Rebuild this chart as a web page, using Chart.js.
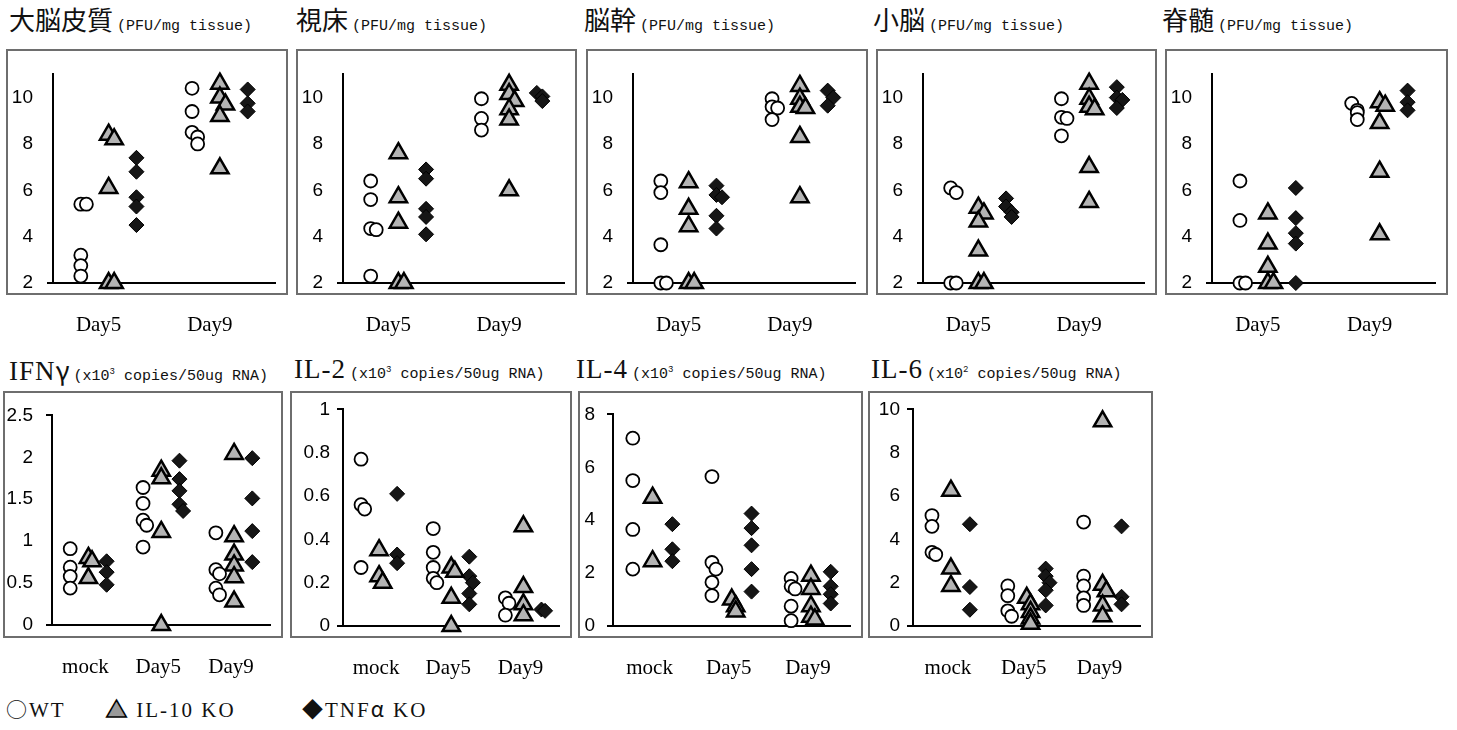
<!DOCTYPE html>
<html>
<head>
<meta charset="utf-8">
<script src="https://cdn.jsdelivr.net/npm/chart.js@4.4.1/dist/chart.umd.min.js"></script>
<style>
  body { margin: 0; width: 1457px; height: 730px; background: #fff; position: relative; overflow: hidden; }
  .frame { position: absolute; border: 2px solid #6e6e6e; box-sizing: border-box; }
  canvas { position: absolute; }
  .ttl { position: absolute; white-space: nowrap; color: #111; line-height: 30px; }
  .cjk { font-family: "Noto Sans CJK JP"; font-size: 26px; }
  .lat { font-family: "Liberation Serif"; font-size: 27px; letter-spacing: 1px; }
  .sub { font-family: "Liberation Mono"; font-size: 15px; }
  .sub sup { font-size: 9px; }
  .leg { position: absolute; top: 693px; white-space: nowrap; font-family: "Liberation Serif"; font-size: 21px; letter-spacing: 2px; color: #111; }
  .sym { font-family: "Noto Sans CJK JP"; }
  .tri { color: #9a9a9a; -webkit-text-stroke: 1.5px #000; }
</style>
</head>
<body>
<div id="root"></div>
<script>
// categories and y tick labels
const topCats = ["Day5", "Day9"];
const botCats = ["mock", "Day5", "Day9"];
const topTicks = [2, 4, 6, 8, 10];
const ifnTicks = [0, 0.5, 1, 1.5, 2, 2.5];
const il2Ticks = [0, 0.2, 0.4, 0.6, 0.8, 1];
const il4Ticks = [0, 2, 4, 6, 8];
const il6Ticks = [0, 2, 4, 6, 8, 10];

// virus titre (PFU/mg tissue), one inner array per category
const cortexWT = [[5.4, 5.4, 3.2, 2.75, 2.3], [10.4, 9.4, 8.5, 8.3, 8.0]];
const cortexIL10 = [[8.4, 8.2, 6.1, 2.0, 2.0], [10.6, 10.0, 9.7, 9.2, 6.95]];
const cortexTNF = [[7.4, 6.8, 5.7, 5.3, 4.5], [10.35, 9.75, 9.4]];

const thalamusWT = [[6.4, 5.6, 4.35, 4.3, 2.3], [9.95, 9.1, 8.6]];
const thalamusIL10 = [[7.6, 5.7, 4.6, 2.0, 2.0], [10.55, 10.15, 9.85, 9.5, 9.05, 6.0]];
const thalamusTNF = [[6.9, 6.5, 5.2, 4.85, 4.1], [10.2, 10.05, 9.85]];

const brainstemWT = [[6.4, 5.9, 3.65, 2.0, 2.0], [9.95, 9.6, 9.55, 9.05]];
const brainstemIL10 = [[6.35, 5.2, 4.45, 2.0, 2.0], [10.5, 9.95, 9.6, 9.55, 8.3, 5.7]];
const brainstemTNF = [[6.2, 5.8, 5.7, 4.9, 4.35], [10.3, 10.0, 9.65]];

const cerebellumWT = [[6.1, 5.9, 2.0, 2.0], [9.95, 9.15, 9.1, 8.35]];
const cerebellumIL10 = [[5.25, 5.0, 4.65, 3.4, 2.0, 2.0], [10.6, 9.95, 9.6, 9.5, 7.0, 5.5]];
const cerebellumTNF = [[5.65, 5.3, 5.05, 4.85], [10.45, 10.0, 9.9, 9.55]];

const spinalWT = [[6.4, 4.7, 2.0, 2.0], [9.75, 9.45, 9.35, 9.05]];
const spinalIL10 = [[5.0, 3.7, 2.7, 2.0, 2.0], [9.8, 9.65, 8.9, 6.8, 4.1]];
const spinalTNF = [[6.1, 4.8, 4.15, 3.7, 2.0], [10.3, 9.8, 9.45]];

// cytokine mRNA
const ifnWT = [[0.91, 0.69, 0.58, 0.44], [1.64, 1.45, 1.25, 1.19, 0.93], [1.1, 0.66, 0.61, 0.44, 0.36]];
const ifnIL10 = [[0.8, 0.76, 0.56], [1.84, 1.75, 1.11, 0], [2.04, 1.06, 0.84, 0.71, 0.57, 0.28]];
const ifnTNF = [[0.76, 0.63, 0.48], [1.96, 1.74, 1.6, 1.44, 1.36], [1.99, 1.51, 1.12, 0.75]];

const il2WT = [[0.77, 0.56, 0.54, 0.27], [0.45, 0.34, 0.27, 0.22, 0.2], [0.13, 0.105, 0.05]];
const il2IL10 = [[0.35, 0.23, 0.2], [0.27, 0.25, 0.13, 0], [0.46, 0.18, 0.1, 0.05]];
const il2TNF = [[0.61, 0.33, 0.29], [0.32, 0.23, 0.2, 0.15, 0.1], [0.076, 0.07]];

const il4WT = [[7.1, 5.5, 3.65, 2.15], [5.65, 2.4, 2.15, 1.65, 1.15], [1.8, 1.5, 1.4, 0.75, 0.2]];
const il4IL10 = [[4.85, 2.45], [1.0, 0.75, 0.55], [1.9, 1.4, 0.75, 0.35, 0.25]];
const il4TNF = [[3.85, 2.9, 2.45], [4.25, 3.7, 3.05, 2.15, 1.3], [2.05, 1.5, 1.2, 0.85]];

const il6WT = [[5.1, 4.6, 3.4, 3.3], [1.85, 1.4, 0.7, 0.45], [4.8, 2.3, 1.85, 1.3, 0.95]];
const il6IL10 = [[6.25, 2.65, 1.85], [1.3, 1.0, 0.65, 0.35, 0.1], [9.45, 1.9, 1.6, 0.95, 0.45]];
const il6TNF = [[4.7, 1.8, 0.75], [2.65, 2.3, 2.0, 1.65, 0.95], [4.6, 1.35, 1.0]];

const unitTop = '(PFU/mg tissue)';
const unit3 = '(x10<sup>3</sup> copies/50ug RNA)';
const unit2 = '(x10<sup>2</sup> copies/50ug RNA)';

// layout: frame box [left, top, width, height], axis x inside frame, plot top/bottom inside frame
const panels = [
  { head: '<span class="cjk">大脳皮質</span>', unit: unitTop, tx: 9, ty: 4, cats: topCats, ticks: topTicks, max: 11,
    wt: cortexWT, il10: cortexIL10, tnf: cortexTNF, box: [6, 49, 282, 246], axisX: 47, plotTop: 13, plotBottom: 234, yPad: 14, xOff: -10 },
  { head: '<span class="cjk">視床</span>', unit: unitTop, tx: 296, ty: 4, cats: topCats, ticks: topTicks, max: 11,
    wt: thalamusWT, il10: thalamusIL10, tnf: thalamusTNF, box: [296, 49, 281, 246], axisX: 47, plotTop: 13, plotBottom: 234, yPad: 14, xOff: -10 },
  { head: '<span class="cjk">脳幹</span>', unit: unitTop, tx: 584, ty: 4, cats: topCats, ticks: topTicks, max: 11,
    wt: brainstemWT, il10: brainstemIL10, tnf: brainstemTNF, box: [586, 49, 282, 246], axisX: 47, plotTop: 13, plotBottom: 234, yPad: 14, xOff: -10 },
  { head: '<span class="cjk">小脳</span>', unit: unitTop, tx: 873, ty: 4, cats: topCats, ticks: topTicks, max: 11,
    wt: cerebellumWT, il10: cerebellumIL10, tnf: cerebellumTNF, box: [876, 49, 281, 246], axisX: 47, plotTop: 13, plotBottom: 234, yPad: 14, xOff: -10 },
  { head: '<span class="cjk">脊髄</span>', unit: unitTop, tx: 1162, ty: 4, cats: topCats, ticks: topTicks, max: 11,
    wt: spinalWT, il10: spinalIL10, tnf: spinalTNF, box: [1165, 49, 283, 246], axisX: 47, plotTop: 13, plotBottom: 234, yPad: 14, xOff: -10 },
  { head: '<span class="lat">IFN</span><span class="cjk">γ</span>', unit: unit3, tx: 9, ty: 354, cats: botCats, ticks: ifnTicks, max: 2.5,
    wt: ifnWT, il10: ifnIL10, tnf: ifnTNF, box: [3, 391, 280, 247], axisX: 49, plotTop: 12, plotBottom: 234, yPad: 13, xOff: -3 },
  { head: '<span class="lat">IL-2</span>', unit: unit3, tx: 294, ty: 354, cats: botCats, ticks: il2Ticks, max: 1,
    wt: il2WT, il10: il2IL10, tnf: il2TNF, box: [290, 391, 282, 247], axisX: 53, plotTop: 14, plotBottom: 235, yPad: 7, xOff: -3 },
  { head: '<span class="lat">IL-4</span>', unit: unit3, tx: 576, ty: 354, cats: botCats, ticks: il4Ticks, max: 8,
    wt: il4WT, il10: il4IL10, tnf: il4TNF, box: [578, 391, 285, 247], axisX: 35, plotTop: 14, plotBottom: 235, yPad: 12, xOff: -3 },
  { head: '<span class="lat">IL-6</span>', unit: unit2, tx: 871, ty: 354, cats: botCats, ticks: il6Ticks, max: 10,
    wt: il6WT, il10: il6IL10, tnf: il6TNF, box: [868, 391, 285, 247], axisX: 45, plotTop: 13, plotBottom: 235, yPad: 7, xOff: -3 }
];

// place each value at its category, nudging marks that would sit on top of one another
function points(groups, off, span) {
  const pts = [];
  groups.forEach((vals, i) => {
    vals.forEach((v, j) => {
      const near = vals.slice(0, j).filter(u => Math.abs(u - v) < span * 0.035).length;
      const nudge = near === 0 ? 0 : (near % 2 ? 1 : -1) * 0.05 * Math.ceil(near / 2);
      pts.push({ x: i + 1 + off + nudge, y: v });
    });
  });
  return pts;
}

const root = document.getElementById('root');

panels.forEach(p => {
  const [left, top, w, h] = p.box;
  const span = p.max - p.ticks[0];

  const t = document.createElement('div');
  t.className = 'ttl';
  t.style.left = p.tx + 'px';
  t.style.top = p.ty + 'px';
  t.innerHTML = p.head + ' <span class="sub">' + p.unit + '</span>';
  root.appendChild(t);

  const f = document.createElement('div');
  f.className = 'frame';
  f.style.cssText = `left:${left}px;top:${top}px;width:${w}px;height:${h}px`;
  root.appendChild(f);

  const canvasH = p.plotBottom + 62;
  const cv = document.createElement('canvas');
  cv.width = w;
  cv.height = canvasH;
  cv.style.cssText = `left:${left}px;top:${top}px;width:${w}px;height:${canvasH}px`;
  root.appendChild(cv);

  new Chart(cv.getContext('2d'), {
    type: 'scatter',
    data: {
      datasets: [
        { label: 'WT', data: points(p.wt, -0.25, span), pointStyle: 'circle', pointRadius: 6.5,
          backgroundColor: '#fff', borderColor: '#000', borderWidth: 1.8, clip: false },
        { label: 'IL-10 KO', data: points(p.il10, 0, span), pointStyle: 'triangle', pointRadius: 10,
          backgroundColor: '#b4b4b4', borderColor: '#000', borderWidth: 2.5, clip: false },
        { label: 'TNFα KO', data: points(p.tnf, 0.25, span), pointStyle: 'rectRot', pointRadius: 7.5,
          backgroundColor: '#161616', borderColor: '#000', borderWidth: 1, clip: false }
      ]
    },
    options: {
      responsive: false,
      animation: false,
      events: [],
      layout: { padding: { top: p.plotTop, right: 2, left: 0, bottom: 0 } },
      plugins: { legend: { display: false }, tooltip: { enabled: false } },
      scales: {
        x: {
          type: 'linear', min: 0.5, max: p.cats.length + 0.5,
          afterBuildTicks: s => { s.ticks = p.cats.map((c, i) => ({ value: i + 1 })); },
          afterFit: s => { s.height = canvasH - p.plotBottom; },
          grid: { display: false },
          border: { color: '#000', width: 2 },
          ticks: {
            callback: v => p.cats[v - 1],
            font: { family: 'Liberation Serif', size: 21 }, color: '#000',
            padding: 22, labelOffset: p.xOff, maxRotation: 0, autoSkip: false
          }
        },
        y: {
          min: p.ticks[0], max: p.max,
          afterBuildTicks: s => { s.ticks = p.ticks.map(v => ({ value: v })); },
          afterFit: s => { s.width = p.axisX; },
          grid: {
            drawOnChartArea: false, drawTicks: true, tickLength: 6, lineWidth: 2,
            color: c => (c.index === 0 || (c.tick && c.tick.value === p.max)) ? '#000' : 'rgba(0,0,0,0)'
          },
          border: { color: '#000', width: 2 },
          ticks: {
            callback: v => String(v),
            font: { family: 'Liberation Sans', size: 19 }, color: '#000', padding: p.yPad
          }
        }
      }
    }
  });
});
</script>
<div class="leg" style="left:6px"><span class="sym">○</span>WT</div>
<div class="leg" style="left:106px"><span class="sym tri">▲</span> IL-10 KO</div>
<div class="leg" style="left:302px"><span class="sym">◆</span>TNF<span class="sym">α</span> KO</div>
</body>
</html>
